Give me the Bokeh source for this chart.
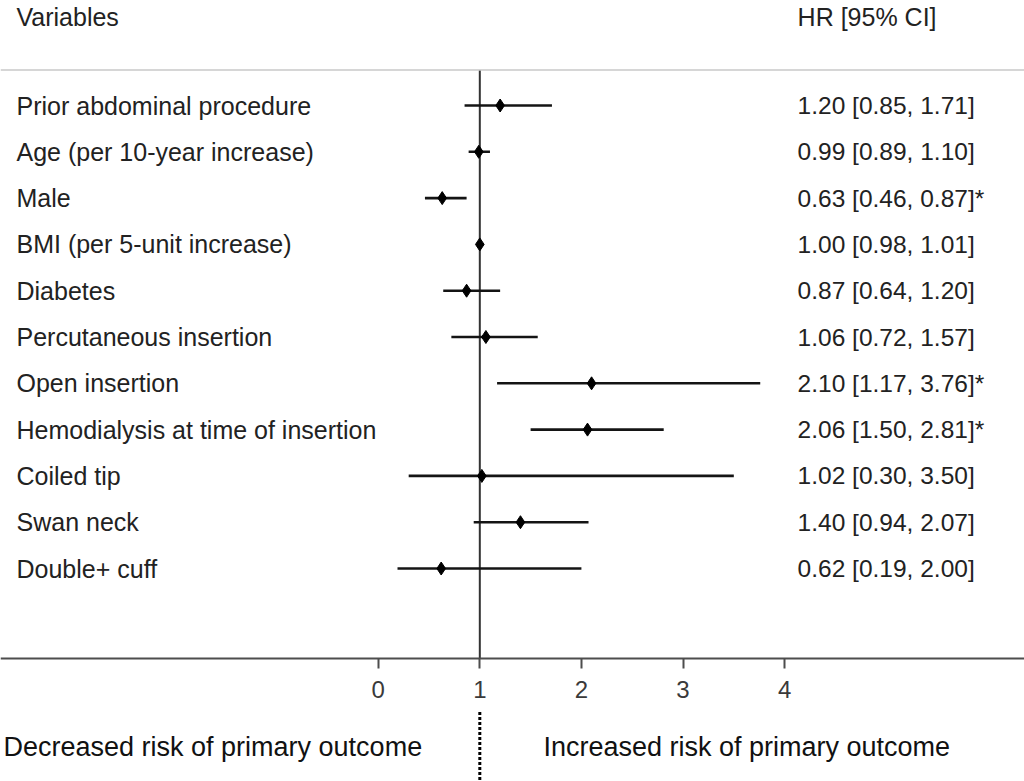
from bokeh.plotting import figure
from bokeh.models import ColumnDataSource, Range1d, LinearAxis, FixedTicker, Span
from bokeh.core.properties import value
from bokeh.embed import file_html
from bokeh.resources import INLINE

# ---- data ----
variables = [
    "Prior abdominal procedure",
    "Age (per 10-year increase)",
    "Male",
    "BMI (per 5-unit increase)",
    "Diabetes",
    "Percutaneous insertion",
    "Open insertion",
    "Hemodialysis at time of insertion",
    "Coiled tip",
    "Swan neck",
    "Double+ cuff",
]
hr = [1.20, 0.99, 0.63, 1.00, 0.87, 1.06, 2.10, 2.06, 1.02, 1.40, 0.62]
ci_low = [0.85, 0.89, 0.46, 0.98, 0.64, 0.72, 1.17, 1.50, 0.30, 0.94, 0.19]
ci_high = [1.71, 1.10, 0.87, 1.01, 1.20, 1.57, 3.76, 2.81, 3.50, 2.07, 2.00]
significant = ["", "", "*", "", "", "", "*", "*", "", "", ""]
x_ticks = [0, 1, 2, 3, 4]

header_left = "Variables"
header_right = "HR [95% CI]"
note_left = "Decreased risk of primary outcome"
note_right = "Increased risk of primary outcome"

FONT = "Liberation Sans"
TXT = "#222222"

rows = list(range(len(variables)))
hr_text = [f"{h:.2f} [{l:.2f}, {u:.2f}]{s}" for h, l, u, s in zip(hr, ci_low, ci_high, significant)]

src = ColumnDataSource(dict(y=rows, var=variables, hr=hr, lo=ci_low, hi=ci_high, txt=hr_text))

p = figure(width=1024, height=781, output_backend="svg", toolbar_location=None,
           x_range=Range1d(-3.7175, 6.361), y_range=Range1d(14.600, -2.268),
           x_axis_location=None, y_axis_location=None, min_border=0,
           background_fill_color="white", border_fill_color="white")
p.outline_line_color = None
p.xgrid.visible = False
p.ygrid.visible = False

# layout positions (row units / HR units)
Y_HEADER = -1.922
Y_TOPLINE = -0.767
Y_AXIS = 11.944
Y_NOTE = 13.855
X_LABEL = -3.560
X_HRCOL = 4.128

# top separator
p.add_layout(Span(location=Y_TOPLINE, dimension="width", line_color="#c8c8c8", line_width=1.5))

# axis at fixed location
ax = LinearAxis(fixed_location=Y_AXIS, ticker=FixedTicker(ticks=x_ticks))
ax.axis_line_color = "#4d4d4d"
ax.axis_line_width = 2
ax.major_tick_line_color = "#4d4d4d"
ax.major_tick_line_width = 2
ax.major_tick_in = 0
ax.major_tick_out = 10
ax.minor_tick_line_color = None
ax.major_label_text_font = FONT
ax.major_label_text_font_size = "24px"
ax.major_label_text_color = "#3a3a3a"
ax.major_label_standoff = 12
p.add_layout(ax, "below")

# reference line at HR = 1
p.segment(x0=[1], y0=[Y_TOPLINE], x1=[1], y1=[Y_AXIS], line_color="#333333", line_width=2)
# dotted divider below axis
p.segment(x0=[1], y0=[13.1], x1=[1], y1=[14.6], line_color="#000000", line_width=3, line_dash="3 2")

# CI lines and points
p.segment(x0="lo", y0="y", x1="hi", y1="y", source=src, line_color="#141414", line_width=2.6)
p.scatter(x="hr", y="y", source=src, marker="diamond", size=13, fill_color="#000000", line_color="#000000")

# row labels and HR text
p.text(x=X_LABEL, y="y", text="var", source=src, text_font=value(FONT), text_font_size="25px",
       text_color=TXT, text_baseline="middle", text_align="left")
p.text(x=X_HRCOL, y="y", text="txt", source=src, text_font=value(FONT), text_font_size="24.5px",
       text_color=TXT, text_baseline="middle", text_align="left")

# headers
p.text(x=[X_LABEL], y=[Y_HEADER], text=[header_left], text_font=value(FONT), text_font_size="25px",
       text_color=TXT, text_baseline="middle", text_align="left")
p.text(x=[X_HRCOL], y=[Y_HEADER], text=[header_right], text_font=value(FONT), text_font_size="25px",
       text_color=TXT, text_baseline="middle", text_align="left")

# bottom notes
p.text(x=[-3.688], y=[Y_NOTE], text=[note_left], text_font=value(FONT), text_font_size="27px",
       text_color="#111111", text_baseline="middle", text_align="left")
p.text(x=[1.626], y=[Y_NOTE], text=[note_right], text_font=value(FONT), text_font_size="27px",
       text_color="#111111", text_baseline="middle", text_align="left")

open("out.html", "w").write(file_html(p, INLINE))
